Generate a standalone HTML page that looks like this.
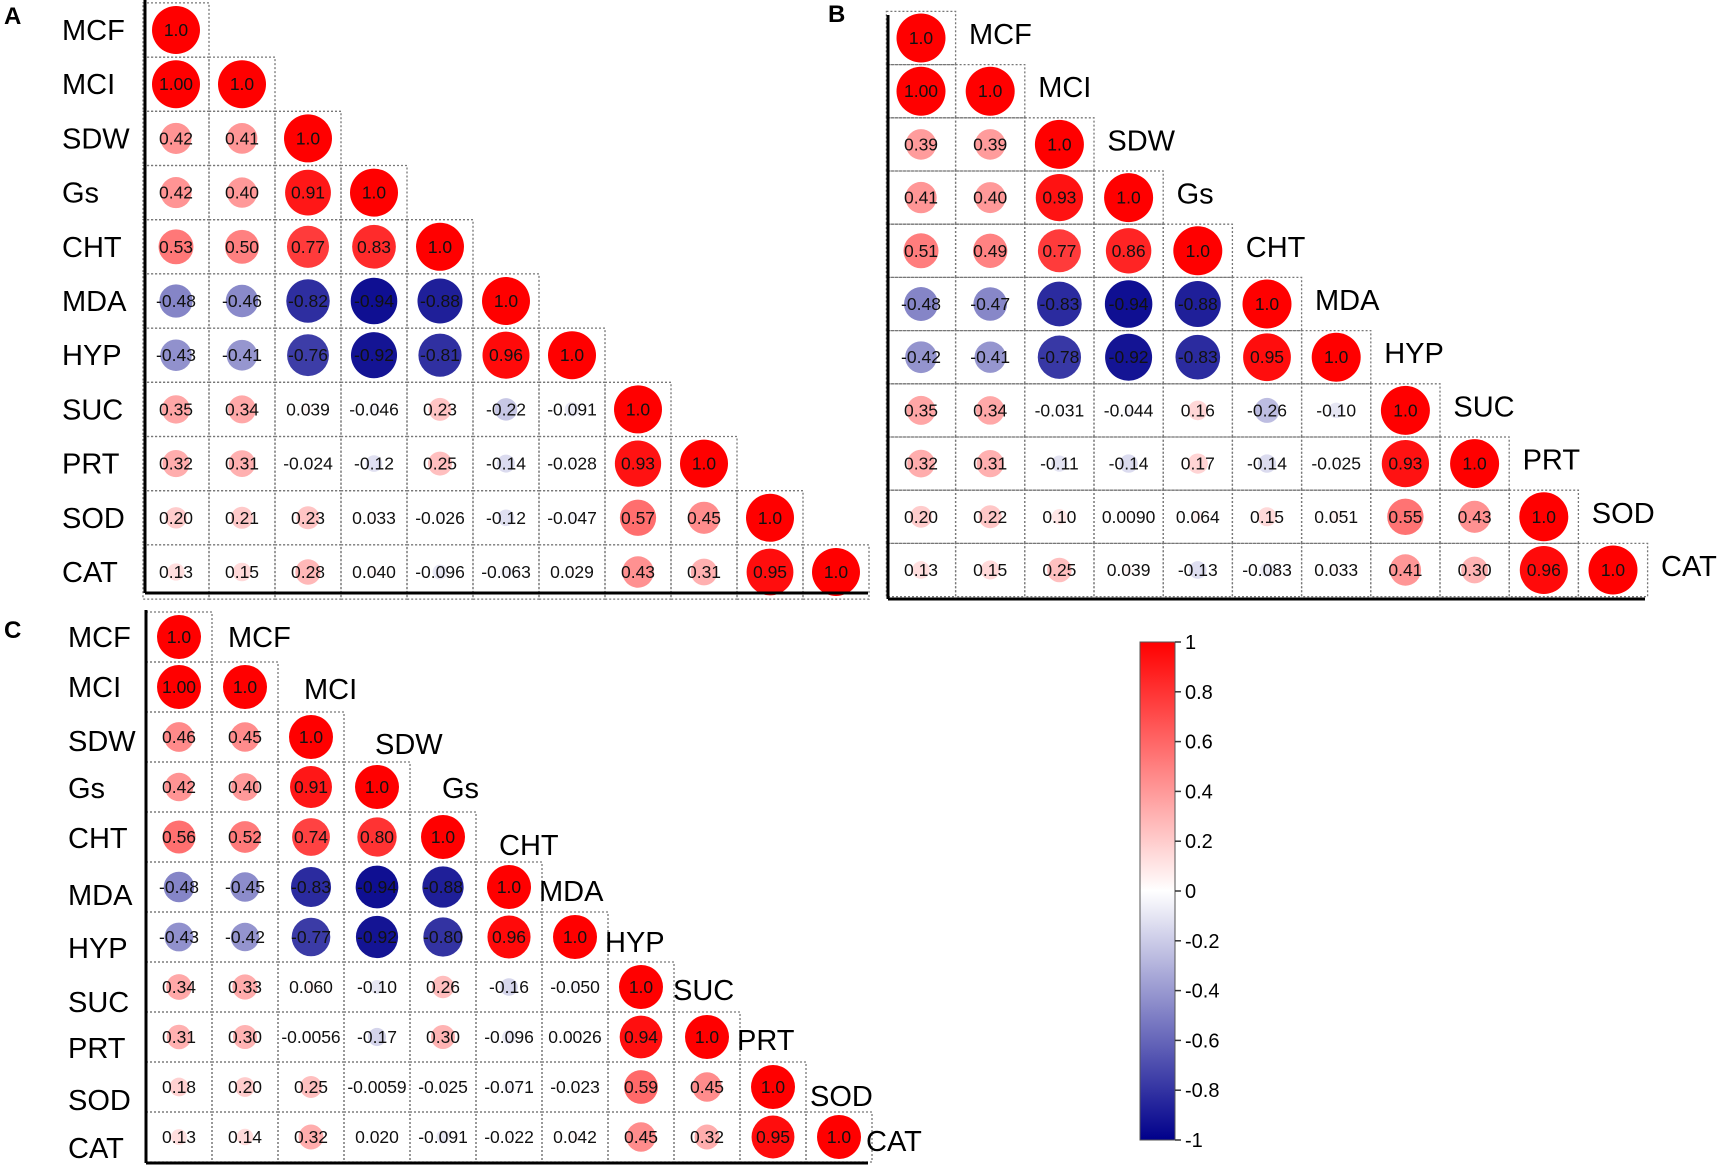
<!DOCTYPE html>
<html><head><meta charset="utf-8"><style>
html,body{margin:0;padding:0;background:#fff;}
svg{display:block;font-family:"Liberation Sans",Arial,sans-serif;}
</style></head><body>
<svg id="chart" width="1723" height="1168" viewBox="0 0 1723 1168" xmlns="http://www.w3.org/2000/svg">
<text x="4" y="24" font-size="24" font-weight="bold">A</text>
<text x="828" y="22" font-size="24" font-weight="bold">B</text>
<text x="4" y="638" font-size="24" font-weight="bold">C</text>
</svg>
<script>
const variables = ["MCF","MCI","SDW","Gs","CHT","MDA","HYP","SUC","PRT","SOD","CAT"];
const corrA = [
 [1],
 [1.00,1],
 [0.42,0.41,1],
 [0.42,0.40,0.91,1],
 [0.53,0.50,0.77,0.83,1],
 [-0.48,-0.46,-0.82,-0.94,-0.88,1],
 [-0.43,-0.41,-0.76,-0.92,-0.81,0.96,1],
 [0.35,0.34,0.039,-0.046,0.23,-0.22,-0.091,1],
 [0.32,0.31,-0.024,-0.12,0.25,-0.14,-0.028,0.93,1],
 [0.20,0.21,0.23,0.033,-0.026,-0.12,-0.047,0.57,0.45,1],
 [0.13,0.15,0.28,0.040,-0.096,-0.063,0.029,0.43,0.31,0.95,1]
];
const corrB = [
 [1],
 [1.00,1],
 [0.39,0.39,1],
 [0.41,0.40,0.93,1],
 [0.51,0.49,0.77,0.86,1],
 [-0.48,-0.47,-0.83,-0.94,-0.88,1],
 [-0.42,-0.41,-0.78,-0.92,-0.83,0.95,1],
 [0.35,0.34,-0.031,-0.044,0.16,-0.26,-0.10,1],
 [0.32,0.31,-0.11,-0.14,0.17,-0.14,-0.025,0.93,1],
 [0.20,0.22,0.10,0.009,0.064,0.15,0.051,0.55,0.43,1],
 [0.13,0.15,0.25,0.039,-0.13,-0.083,0.033,0.41,0.30,0.96,1]
];
const corrC = [
 [1],
 [1.00,1],
 [0.46,0.45,1],
 [0.42,0.40,0.91,1],
 [0.56,0.52,0.74,0.80,1],
 [-0.48,-0.45,-0.83,-0.94,-0.88,1],
 [-0.43,-0.42,-0.77,-0.92,-0.80,0.96,1],
 [0.34,0.33,0.060,-0.10,0.26,-0.16,-0.050,1],
 [0.31,0.30,-0.0056,-0.17,0.30,-0.096,0.0026,0.94,1],
 [0.18,0.20,0.25,-0.0059,-0.025,-0.071,-0.023,0.59,0.45,1],
 [0.13,0.14,0.32,0.020,-0.091,-0.022,0.042,0.45,0.32,0.95,1]
];
const colorTicks = [1,0.8,0.6,0.4,0.2,0,-0.2,-0.4,-0.6,-0.8,-1];
const colorTickLabels = ["1","0.8","0.6","0.4","0.2","0","-0.2","-0.4","-0.6","-0.8","-1"];

const NS="http://www.w3.org/2000/svg";
const svg=document.getElementById('chart');
function mk(tag,attrs,parent){const e=document.createElementNS(NS,tag);for(const k in attrs)e.setAttribute(k,attrs[k]);(parent||svg).appendChild(e);return e;}
function color(v){
  const t=Math.min(1,Math.abs(v));
  if(v>=0){const g=Math.round(255*(1-t));return `rgb(255,${g},${g})`;}
  const c=Math.round(255*(1-t)), b=Math.round(255-(255-139)*t);
  return `rgb(${c},${c},${b})`;
}
function fmt(v,diag){
  if(diag) return "1.0";
  if(Math.abs(v)>=0.1) return v.toFixed(2);
  return v.toPrecision(2);
}
function panel(name,data,cfg){
  const g=mk('g',{});
  
  
  const xs=i=>cfg.x0+i*cfg.dx, ys=i=>cfg.y0+i*cfg.dy;
  data.forEach((row,i)=>row.forEach((v,j)=>{
    const r=mk('rect',{x:xs(j)-cfg.dx/2,y:ys(i)-cfg.dy/2,width:cfg.dx,height:cfg.dy,fill:'none',stroke:'#777','stroke-width':1.3,'stroke-dasharray':'2,2'},g);
    
    
  }));
  data.forEach((row,i)=>row.forEach((v,j)=>{
    const rad=cfg.R*Math.sqrt(Math.min(1,Math.abs(v)));
    const c=mk('ellipse',{cx:xs(j),cy:ys(i),rx:rad,ry:rad,fill:color(v)},g);
    
    
    const t=mk('text',{x:xs(j),y:ys(i)+6,'font-size':17.5,'text-anchor':'middle',fill:'#111'},g);
    t.textContent=fmt(v,i===j);
    
    
  }));
  const ax=mk('line',{x1:cfg.ax,y1:cfg.top,x2:cfg.ax,y2:cfg.bottom,stroke:'#000','stroke-width':3},g);
  
  
  const bx=mk('line',{x1:cfg.ax,y1:cfg.bottom,x2:cfg.right,y2:cfg.bottom,stroke:'#000','stroke-width':3},g);
  
  
  variables.forEach((n,i)=>{
    if(cfg.left){
      const t=mk('text',{x:cfg.leftX,y:ys(i)+(cfg.leftOff?cfg.leftOff[i]:0)+10,'font-size':29,'text-anchor':'start'},g);
      t.textContent=n;
      
      
    }
    if(cfg.diag){
      const ddx=cfg.diagDxs?cfg.diagDxs[i]:cfg.diagDx;
      const ddy=cfg.diagDys?cfg.diagDys[i]:cfg.diagDy;
      const t=mk('text',{x:xs(i)+ddx,y:ys(i)+ddy+10,'font-size':29,'text-anchor':'start'},g);
      t.textContent=n;
      
      
    }
  });
}
panel('panel-a',corrA,{x0:176,dx:66,y0:30,dy:54.2,R:24,ax:145,top:0,bottom:593,right:868,left:true,leftX:62});
panel('panel-b',corrB,{x0:921,dx:69.2,y0:38,dy:53.2,R:24.5,ax:888,top:15,bottom:599,right:1645,diag:true,diagDx:48,diagDy:-4});
panel('panel-c',corrC,{x0:179,dx:66,y0:637,dy:50,R:22,ax:146,top:610,bottom:1163,right:868,left:true,leftX:68,diag:true,
  diagDxs:[49,59,64,65,56,30,30,32,30,37,27],diagDys:[0,2,7,1,8,4,5,3,3,9,4],leftOff:[0,0,4,1,1,8,11,15,11,13,11]});

const cb=mk('g',{});


const defs=mk('defs',{},cb);
const lg=mk('linearGradient',{id:'cbg',x1:0,y1:0,x2:0,y2:1},defs);
[[0,'#ff0000'],[0.5,'#ffffff'],[1,'#00008b']].forEach(s=>mk('stop',{offset:s[0],'stop-color':s[1]},lg));
const cbTop=642, cbBot=1140, cbX=1140, cbW=35;
const cy=v=>cbTop+(1-v)/2*(cbBot-cbTop);
const rb=mk('rect',{x:cbX,y:cbTop,width:cbW,height:cbBot-cbTop,fill:'url(#cbg)',stroke:'#555','stroke-width':1},cb);


colorTicks.forEach((v,i)=>{
  const l=mk('line',{x1:cbX+cbW,y1:cy(v),x2:cbX+cbW+6,y2:cy(v),stroke:'#333','stroke-width':1.5},cb);
  
  
  const t=mk('text',{x:cbX+cbW+10,y:cy(v)+7,'font-size':20},cb);
  t.textContent=colorTickLabels[i];
  
  
});
</script>
</body></html>
